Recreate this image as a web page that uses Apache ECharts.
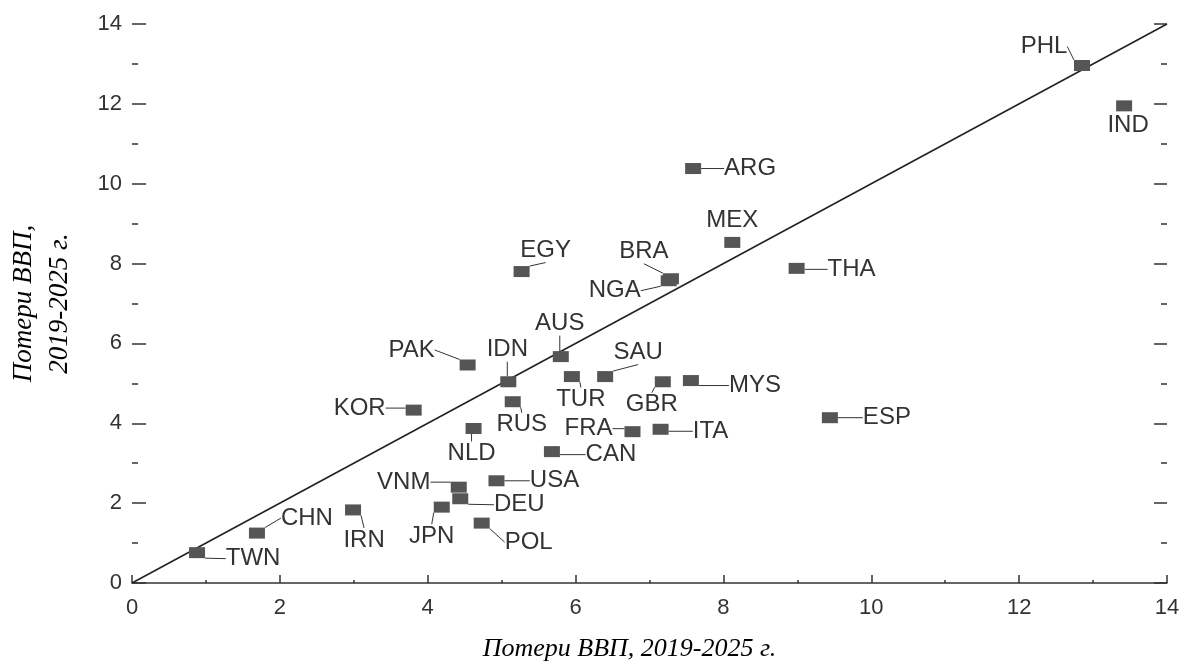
<!DOCTYPE html>
<html>
<head>
<meta charset="utf-8">
<script src="https://cdn.jsdelivr.net/npm/echarts@6.0.0/dist/echarts.min.js"></script>
<style>
  html, body { margin: 0; background: #fff; }
  #main { width: 1183px; height: 662px; }
</style>
</head>
<body>
<div id="main"></div>
<script>
// данные: потери ВВП по странам
var countries = ["TWN", "CHN", "IRN", "JPN", "DEU", "VNM", "POL", "USA", "CAN", "NLD",
  "RUS", "FRA", "ITA", "KOR", "TUR", "SAU", "GBR", "MYS", "IDN", "PAK",
  "AUS", "ESP", "EGY", "BRA", "NGA", "MEX", "ARG", "THA", "PHL", "IND"];
var lossX = [0.88, 1.69, 2.99, 4.19, 4.44, 4.42, 4.73, 4.93, 5.68, 4.62,
  5.15, 6.77, 7.15, 3.81, 5.95, 6.40, 7.18, 7.56, 5.09, 4.54,
  5.80, 9.44, 5.27, 7.29, 7.26, 8.12, 7.59, 8.99, 12.85, 13.42];
var lossY = [0.76, 1.25, 1.83, 1.90, 2.11, 2.40, 1.50, 2.56, 3.29, 3.87,
  4.54, 3.79, 3.85, 4.33, 5.17, 5.17, 5.04, 5.07, 5.04, 5.46,
  5.67, 4.14, 7.80, 7.62, 7.57, 8.53, 10.38, 7.88, 12.96, 11.95];
// линия 45 градусов
var diagX = [0, 14];
var diagY = [0, 14];
var axisMin = 0, axisMax = 14, axisStep = 2;

// смещения подписей (px) относительно маркера
var labelOffsets = [[56, 6], [50, -15], [11, 30], [-10, 29], [59, 6], [-55, -5], [47, 19], [58, 0], [59, 3], [-2, 25],
  [9, 23], [-44, -3], [50, 2], [-54, -2], [9, 23], [33, -24], [-11, 23], [64, 5], [-1, -32], [-56, -15],
  [-1, -33], [57, 0], [24, -21], [-27, -27], [-54, 10], [0, -22], [57, 0], [55, 1], [-38, -19], [4, 20]];
var noLeader = ["MEX", "IND"];

var chartDom = document.getElementById("main");
var myChart = echarts.init(chartDom);
var option;

var sansFont = "Liberation Sans, Arial, sans-serif";
var serifFont = "Liberation Serif, Times New Roman, serif";

var points = countries.map(function (c, i) {
  var item = { name: c, value: [lossX[i], lossY[i]] };
  if (noLeader.indexOf(c) >= 0) item.labelLine = { show: false };
  return item;
});

var tickStyle = { color: "#333", width: 1.5 };

option = {
  animation: false,
  grid: { left: 132, right: 16, top: 24, bottom: 79, outerBoundsMode: "none" },
  xAxis: {
    type: "value",
    min: axisMin,
    max: axisMax,
    interval: axisStep,
    name: "Потери ВВП, 2019-2025 г.",
    nameLocation: "middle",
    nameGap: 53,
    nameTextStyle: {
      fontFamily: serifFont,
      fontStyle: "italic",
      fontSize: 26,
      color: "#000",
      padding: [0, 40, 0, 0],
    },
    axisLine: { lineStyle: { color: "#333", width: 1.5 } },
    axisTick: { inside: true, length: 8, lineStyle: tickStyle },
    minorTick: { show: true, splitNumber: 2, length: 3, lineStyle: tickStyle },
    axisLabel: { fontFamily: sansFont, fontSize: 22, color: "#333", margin: 14 },
    splitLine: { show: false },
  },
  yAxis: [
    {
      type: "value",
      min: axisMin,
      max: axisMax,
      interval: axisStep,
      name: "Потери ВВП,\n2019-2025 г.",
      nameLocation: "middle",
      nameGap: 54,
      nameTextStyle: {
        fontFamily: serifFont,
        fontStyle: "italic",
        fontSize: 27,
        lineHeight: 36,
        color: "#000",
      },
      axisLine: { show: false },
      axisTick: { inside: true, length: 14, lineStyle: tickStyle },
      minorTick: { show: true, splitNumber: 2, length: 6, lineStyle: tickStyle },
      axisLabel: { fontFamily: sansFont, fontSize: 22, color: "#333", margin: 10 },
      splitLine: { show: false },
    },
    {
      type: "value",
      position: "right",
      min: axisMin,
      max: axisMax,
      interval: axisStep,
      axisLine: { show: false },
      axisTick: { inside: true, length: 13, lineStyle: tickStyle },
      minorTick: { show: true, splitNumber: 2, length: 6, lineStyle: tickStyle },
      axisLabel: { show: false },
      splitLine: { show: false },
    },
  ],
  series: [
    {
      type: "line",
      data: diagX.map(function (x, i) { return [x, diagY[i]]; }),
      symbol: "none",
      lineStyle: { color: "#222", width: 1.6 },
      z: 1,
    },
    {
      type: "scatter",
      data: points,
      symbol: "rect",
      symbolSize: [16, 11],
      itemStyle: { color: "#555", opacity: 1 },
      z: 3,
      label: {
        show: true,
        position: "inside",
        formatter: "{b}",
        fontFamily: sansFont,
        fontSize: 24,
        color: "#333",
        textBorderWidth: 0,
      },
      labelLine: {
        show: true,
        length2: 0,
        lineStyle: { color: "#333", width: 1 },
      },
      labelLayout: function (params) {
        var o = labelOffsets[params.dataIndex];
        return { dx: o[0], dy: o[1] };
      },
      emphasis: { disabled: true },
    },
  ],
};

option && myChart.setOption(option);
</script>
</body>
</html>
